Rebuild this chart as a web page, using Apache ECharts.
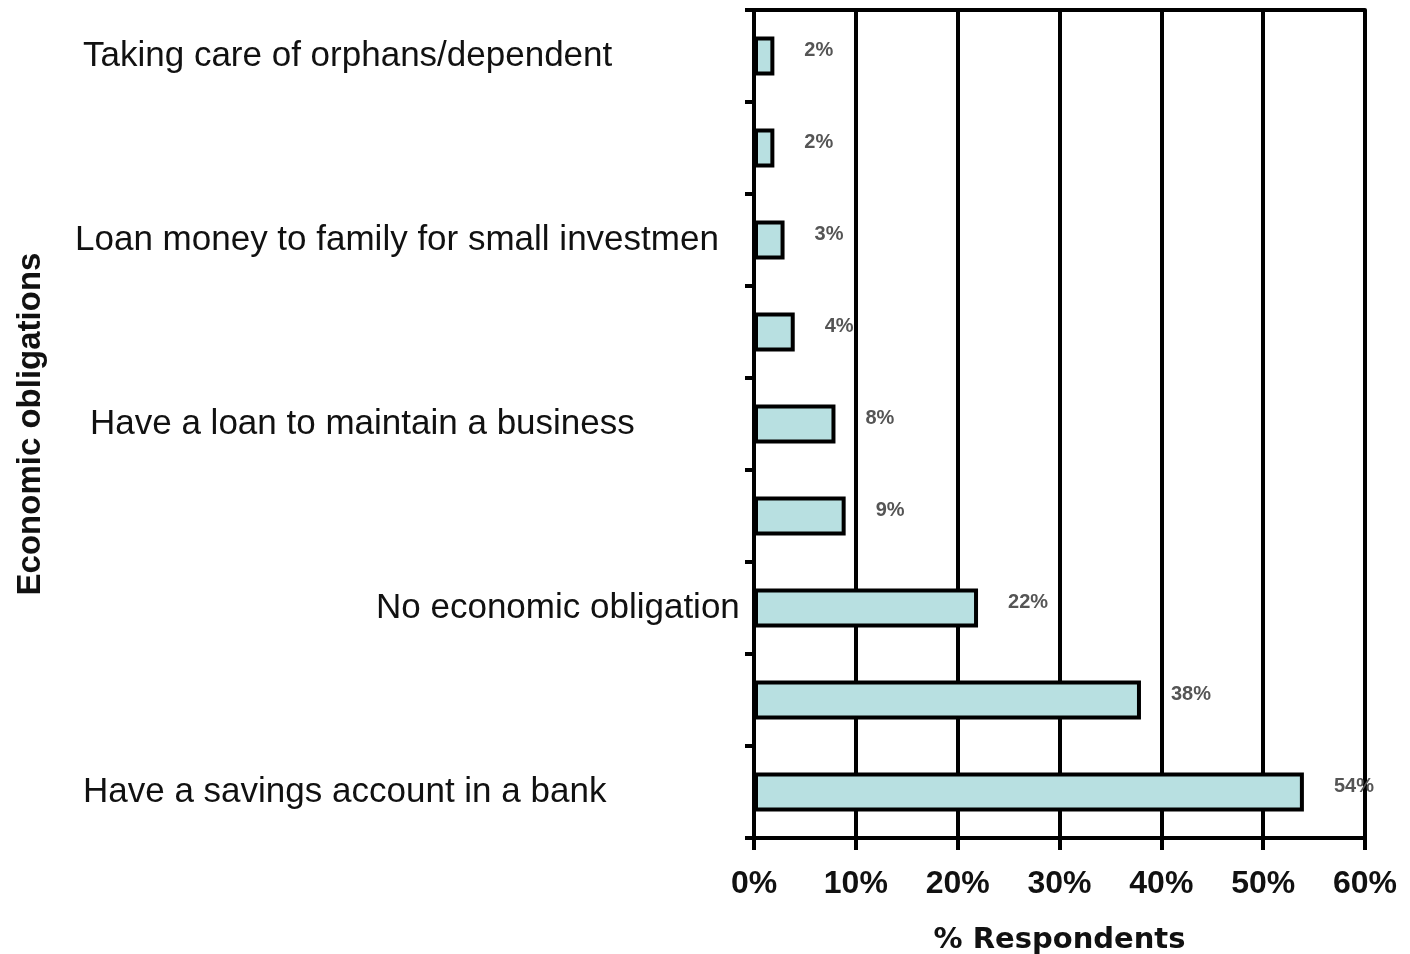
<!DOCTYPE html>
<html>
<head>
<meta charset="utf-8">
<title>Economic obligations</title>
<script src="https://cdn.jsdelivr.net/npm/echarts@6/dist/echarts.min.js"></script>
<style>
  html, body { margin: 0; padding: 0; background: #ffffff; }
  #chart { width: 1410px; height: 954px; }
</style>
</head>
<body>
<div id="chart"></div>
<script>
// Categories from top to bottom; only every other one carries a visible label
const categories = [
  'Taking care of orphans/dependent',
  ' ',
  'Loan money to family for small investmen',
  '  ',
  'Have a loan to maintain a business',
  '   ',
  'No economic obligation',
  '    ',
  'Have a savings account in a bank'
];

// Share of respondents (%)
const respondents = [2, 2, 3, 4, 8, 9, 22, 38, 54];

// Value axis ticks (%)
const tickValues = [0, 10, 20, 30, 40, 50, 60];

const xTitle = '% Respondents';
const yTitle = 'Economic obligations';

// left indent of each category label (px)
const labelIndent = [8, 0, 0, 0, 15, 0, 301, 0, 8];

const rich = {};
labelIndent.forEach((pad, i) => {
  rich['c' + i] = {
    fontFamily: 'Liberation Sans, Arial, sans-serif',
    fontSize: 35,
    color: '#111',
    padding: [0, 0, 0, pad]
  };
});

const LINE = { color: '#000', width: 4 };

const chart = echarts.init(document.getElementById('chart'), null, { renderer: 'canvas' });

chart.setOption({
  animation: false,
  backgroundColor: '#ffffff',
  grid: { left: 754, right: 45, top: 10, bottom: 116, outerBoundsMode: 'none' },
  xAxis: [
    {
      type: 'value',
      min: tickValues[0],
      max: tickValues[tickValues.length - 1],
      interval: tickValues[1] - tickValues[0],
      position: 'bottom',
      name: xTitle,
      nameLocation: 'middle',
      nameGap: 88,
      nameTextStyle: {
        fontFamily: 'DejaVu Sans, sans-serif',
        fontWeight: 'bold',
        fontSize: 29,
        color: '#111'
      },
      axisLine: { show: true, lineStyle: LINE },
      axisTick: { show: true, length: 12, lineStyle: LINE },
      axisLabel: {
        margin: 30,
        formatter: '{value}%',
        fontFamily: 'Liberation Sans, Arial, sans-serif',
        fontWeight: 'bold',
        fontSize: 32,
        color: '#111'
      },
      splitLine: { show: true, lineStyle: LINE }
    },
    {
      type: 'value',
      min: tickValues[0],
      max: tickValues[tickValues.length - 1],
      position: 'top',
      axisLine: { show: true, lineStyle: LINE },
      axisTick: { show: false },
      axisLabel: { show: false },
      splitLine: { show: false }
    }
  ],
  yAxis: {
    type: 'category',
    inverse: true,
    data: categories,
    name: yTitle,
    nameLocation: 'middle',
    nameRotate: 90,
    nameGap: 707,
    nameTextStyle: {
      fontFamily: 'Liberation Sans, Arial, sans-serif',
      fontWeight: 'bold',
      fontSize: 33,
      color: '#111'
    },
    axisLine: { show: true, lineStyle: LINE },
    axisTick: { show: true, interval: 0, length: 9, lineStyle: LINE },
    axisLabel: {
      interval: 1,
      align: 'left',
      margin: 679,
      formatter: (value, index) => '{c' + index + '|' + value + '}',
      rich: rich
    },
    splitLine: { show: false }
  },
  series: [
    {
      type: 'bar',
      xAxisIndex: 0,
      data: respondents,
      barWidth: 39,
      itemStyle: { color: '#b8e0e1', borderColor: '#000', borderWidth: 4 },
      label: {
        show: true,
        position: 'right',
        distance: 30,
        offset: [0, -6],
        formatter: '{c}%',
        fontFamily: 'Liberation Sans, Arial, sans-serif',
        fontWeight: 'bold',
        fontSize: 20,
        color: '#555'
      }
    }
  ]
});
</script>
</body>
</html>
